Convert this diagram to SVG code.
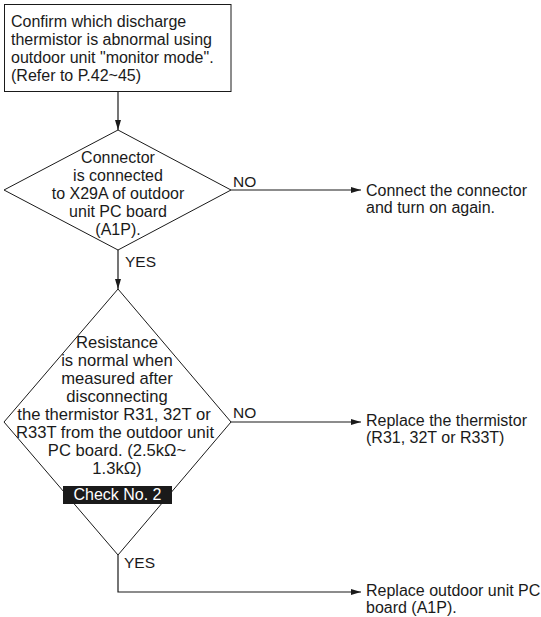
<svg xmlns="http://www.w3.org/2000/svg" width="541" height="617" viewBox="0 0 541 617">
<style>
text{font-family:"Liberation Sans",Arial,sans-serif;font-size:16px;fill:#1a1a1a}
.c{text-anchor:middle}
.d2{font-size:16.6px}
.lbl{font-size:15.5px}
.shape{fill:#fff;stroke:#1a1a1a;stroke-width:1}
.ln{fill:none;stroke:#1a1a1a;stroke-width:1.2}
.w{fill:#fff}
</style>
<defs>
<marker id="ah" viewBox="0 0 10 6" refX="10" refY="3" markerWidth="10" markerHeight="6" markerUnits="userSpaceOnUse" orient="auto">
<path d="M0,0 L10,3 L0,6 Z" fill="#1a1a1a"/>
</marker>
</defs>
<g id="connectors">
<line class="ln" x1="118" y1="92" x2="118" y2="130" marker-end="url(#ah)"/>
<line class="ln" x1="231" y1="190" x2="361" y2="190" marker-end="url(#ah)"/>
<line class="ln" x1="118" y1="250" x2="118" y2="289" marker-end="url(#ah)"/>
<line class="ln" x1="231" y1="422" x2="361" y2="422" marker-end="url(#ah)"/>
<polyline class="ln" points="118,555 118,592 361,592" marker-end="url(#ah)"/>
<text class="lbl" x="233" y="187">NO</text>
<text class="lbl" x="125" y="267">YES</text>
<text class="lbl" x="233" y="418">NO</text>
<text class="lbl" x="124" y="568">YES</text>
</g>
<g id="start">
<rect class="shape" x="4.5" y="4.5" width="226.5" height="87"/>
<text x="11" y="27">Confirm which discharge</text>
<text x="11" y="45">thermistor is abnormal using</text>
<text x="11" y="63">outdoor unit "monitor mode".</text>
<text x="11" y="81">(Refer to P.42~45)</text>
</g>
<g id="decision1">
<polygon class="shape" points="118,130 231,190 118,250 4,190"/>
<text class="c" x="118" y="163">Connector</text>
<text class="c" x="118" y="181">is connected</text>
<text class="c" x="118" y="199">to X29A of outdoor</text>
<text class="c" x="118" y="217">unit PC board</text>
<text class="c" x="118" y="235">(A1P).</text>
</g>
<g id="result1">
<text x="366" y="196">Connect the connector</text>
<text x="366" y="213">and turn on again.</text>
</g>
<g id="decision2">
<polygon class="shape" points="118,289 231,422 118,555 4,422"/>
<text class="c d2" x="117" y="348">Resistance</text>
<text class="c d2" x="117" y="366">is normal when</text>
<text class="c d2" x="117" y="384">measured after</text>
<text class="c d2" x="117" y="402">disconnecting</text>
<text class="c d2" x="114" y="420">the thermistor R31, 32T or</text>
<text class="c d2" x="115" y="438">R33T from the outdoor unit</text>
<text class="c d2" x="117" y="456">PC board. (2.5kΩ~</text>
<text class="c d2" x="117" y="474">1.3kΩ)</text>
<rect x="63" y="486" width="109" height="18" fill="#1a1a1a"/>
<text class="c w" x="117.5" y="500">Check No. 2</text>
</g>
<g id="result2">
<text x="366" y="426">Replace the thermistor</text>
<text x="366" y="443">(R31, 32T or R33T)</text>
</g>
<g id="result3">
<text x="366" y="596">Replace outdoor unit PC</text>
<text x="366" y="613">board (A1P).</text>
</g>
</svg>
